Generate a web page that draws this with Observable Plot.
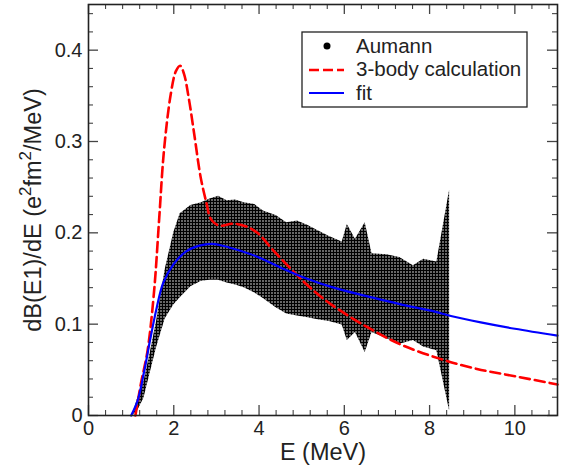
<!DOCTYPE html>
<html><head><meta charset="utf-8">
<script src="https://cdn.jsdelivr.net/npm/d3@7"></script>
<script src="https://cdn.jsdelivr.net/npm/@observablehq/plot@0.6"></script>
<style>body{margin:0;background:#fff}</style>
</head><body><div id="chart"></div>
<script>
// Aumann data band (energy, lower and upper edge of error band)
const aumannE    = [1.05, 1.15, 1.3, 1.45, 1.6, 1.8, 2.0, 2.15, 2.4, 2.65, 2.85, 3.05, 3.25, 3.45, 3.65, 3.9, 4.1, 4.4, 4.65, 4.9, 5.15, 5.35, 5.65, 5.95, 6.07, 6.26, 6.49, 6.65, 7.0, 7.3, 7.62, 7.86, 8.17, 8.47];
const aumannHigh = [0.003, 0.018, 0.037, 0.069, 0.104, 0.16, 0.2, 0.221, 0.23, 0.233, 0.237, 0.24, 0.235, 0.236, 0.233, 0.231, 0.224, 0.219, 0.211, 0.213, 0.208, 0.203, 0.196, 0.19, 0.209, 0.193, 0.211, 0.177, 0.176, 0.173, 0.164, 0.171, 0.168, 0.247];
const aumannLow  = [0.0, 0.005, 0.019, 0.047, 0.075, 0.106, 0.121, 0.129, 0.141, 0.147, 0.148, 0.148, 0.145, 0.143, 0.14, 0.134, 0.128, 0.118, 0.111, 0.109, 0.107, 0.105, 0.103, 0.099, 0.082, 0.091, 0.069, 0.091, 0.084, 0.078, 0.082, 0.075, 0.071, 0.005];

// 3-body calculation
const calcE = [1.1, 1.23, 1.385, 1.54, 1.66, 1.77, 1.93, 2.05, 2.15, 2.24, 2.36, 2.48, 2.63, 2.77, 2.87, 3.06, 3.4, 3.7, 3.96, 4.35, 4.82, 5.2, 5.68, 6.53, 7.31, 8.25, 9.11, 10.0, 11.0];
const calcB = [0.0, 0.035, 0.071, 0.137, 0.217, 0.29, 0.352, 0.377, 0.383, 0.374, 0.345, 0.308, 0.261, 0.232, 0.215, 0.208, 0.21, 0.207, 0.2, 0.18, 0.157, 0.14, 0.122, 0.097, 0.078, 0.062, 0.051, 0.043, 0.034];

// fit
const fitE = [1.0, 1.15, 1.3, 1.45, 1.6, 1.75, 2.0, 2.3, 2.6, 2.9, 3.3, 3.9, 4.5, 5.0, 5.75, 6.5, 7.3, 8.1, 8.5, 9.2, 10.0, 11.0];
const fitB = [0.0, 0.016, 0.047, 0.084, 0.118, 0.145, 0.166, 0.18, 0.186, 0.188, 0.184, 0.175, 0.162, 0.152, 0.14, 0.131, 0.122, 0.114, 0.109, 0.102, 0.095, 0.0875];

// ticks
const xMajor = [0, 2, 4, 6, 8, 10];
const xMinor = [0.4, 0.8, 1.2, 1.6, 2.4, 2.8, 3.2, 3.6, 4.4, 4.8, 5.2, 5.6, 6.4, 6.8, 7.2, 7.6, 8.4, 8.8, 9.2, 9.6, 10.4, 10.8];
const yMajor = [0, 0.1, 0.2, 0.3, 0.4];
const yMinor = [0.02, 0.04, 0.06, 0.08, 0.12, 0.14, 0.16, 0.18, 0.22, 0.24, 0.26, 0.28, 0.32, 0.34, 0.36, 0.38, 0.42, 0.44];

const legendLabels = ["Aumann", "3-body calculation", "fit"];
const xLabel = "E (MeV)";

const W = 570, H = 470, mL = 88, mR = 13, mT = 4, mB = 55;
const pw = W - mL - mR, ph = H - mT - mB;
const FONT = "'Liberation Sans', Arial, Helvetica, sans-serif";
const INK = "#222";

const band = aumannE.map((e, i) => ({e, lo: aumannLow[i], hi: aumannHigh[i]}));
const calc = calcE.map((e, i) => ({e, b: calcB[i]}));
const fit = fitE.map((e, i) => ({e, b: fitB[i]}));

const plot = Plot.plot({
  width: W, height: H,
  marginLeft: mL, marginRight: mR, marginTop: mT, marginBottom: mB,
  x: {domain: [0, 11]},
  y: {domain: [0, 0.45]},
  style: {fontFamily: FONT, color: INK, background: "white", overflow: "visible"},
  marks: [
    Plot.areaY(band, {x: "e", y1: "lo", y2: "hi", fill: "url(#dots)"}),
    Plot.line(calc, {x: "e", y: "b", stroke: "#ff0000", strokeWidth: 2.6, strokeDasharray: "10,5", curve: "catmull-rom"}),
    Plot.line(fit, {x: "e", y: "b", stroke: "#0000ff", strokeWidth: 2.2, curve: "catmull-rom"}),
    // inward ticks on all four sides
    Plot.tickX(xMajor, {x: d => d, insetTop: ph - 10, stroke: "#444", strokeWidth: 1.3}),
    Plot.tickX(xMajor, {x: d => d, insetBottom: ph - 10, stroke: "#444", strokeWidth: 1.3}),
    Plot.tickX(xMinor, {x: d => d, insetTop: ph - 5, stroke: "#444", strokeWidth: 1.1}),
    Plot.tickX(xMinor, {x: d => d, insetBottom: ph - 5, stroke: "#444", strokeWidth: 1.1}),
    Plot.tickY(yMajor, {y: d => d, insetRight: pw - 10, stroke: "#444", strokeWidth: 1.3}),
    Plot.tickY(yMajor, {y: d => d, insetLeft: pw - 10, stroke: "#444", strokeWidth: 1.3}),
    Plot.tickY(yMinor, {y: d => d, insetRight: pw - 5, stroke: "#444", strokeWidth: 1.1}),
    Plot.tickY(yMinor, {y: d => d, insetLeft: pw - 5, stroke: "#444", strokeWidth: 1.1}),
    Plot.frame({stroke: INK, strokeWidth: 1.6}),
    Plot.axisX(xMajor, {tickSize: 0, tickPadding: 5, fontSize: 20, label: null, tickFormat: d => String(d)}),
    Plot.axisY(yMajor, {tickSize: 0, tickPadding: 6, fontSize: 20, label: null, tickFormat: d => String(d)}),
    Plot.text([xLabel], {text: d => d, frameAnchor: "bottom", lineAnchor: "middle", textAnchor: "middle", dy: 37, fontSize: 23.5, fill: INK}),
    Plot.text(["dB(E1)/dE (e^2fm^2/MeV)"], {text: d => d, frameAnchor: "left", lineAnchor: "middle", textAnchor: "middle", rotate: -90, dx: -55, fontSize: 23.5, fill: INK})
  ]
});

const svg = d3.select(plot);
// dot pattern for the data band
const defs = svg.insert("defs", ":first-child");
const pat = defs.append("pattern").attr("id", "dots").attr("patternUnits", "userSpaceOnUse").attr("width", 3).attr("height", 3);
pat.append("rect").attr("width", 3).attr("height", 3).attr("fill", "#000");
pat.append("rect").attr("x", 1).attr("y", 1).attr("width", 2).attr("height", 2).attr("fill", "#666");

// superscripts in y label
svg.selectAll("text").filter(function() { return this.textContent.includes("^2"); }).each(function() {
  const t = d3.select(this);
  t.text("");
  t.append("tspan").text("dB(E1)/dE (e");
  t.append("tspan").attr("dy", -10).attr("font-size", 17).text("2");
  t.append("tspan").attr("dy", 10).text("fm");
  t.append("tspan").attr("dy", -10).attr("font-size", 17).text("2");
  t.append("tspan").attr("dy", 10).text("/MeV)");
});

// legend box
const lg = svg.append("g").attr("font-family", FONT).attr("font-size", 20.5).attr("fill", INK).attr("text-anchor", "start");
lg.append("rect").attr("x", 302).attr("y", 32).attr("width", 225).attr("height", 75)
  .attr("fill", "white").attr("stroke", INK).attr("stroke-width", 1.3);
lg.append("circle").attr("cx", 327).attr("cy", 46).attr("r", 3.5).attr("fill", "#000");
lg.append("line").attr("x1", 309).attr("x2", 344).attr("y1", 70).attr("y2", 70)
  .attr("stroke", "#ff0000").attr("stroke-width", 2.6).attr("stroke-dasharray", "10,4");
lg.append("line").attr("x1", 309).attr("x2", 344).attr("y1", 93).attr("y2", 93)
  .attr("stroke", "#0000ff").attr("stroke-width", 2.2);
[53, 76, 100].forEach((y, i) => lg.append("text").attr("x", 356).attr("y", y).text(legendLabels[i]));

document.getElementById("chart").appendChild(plot);
</script>
</body></html>
